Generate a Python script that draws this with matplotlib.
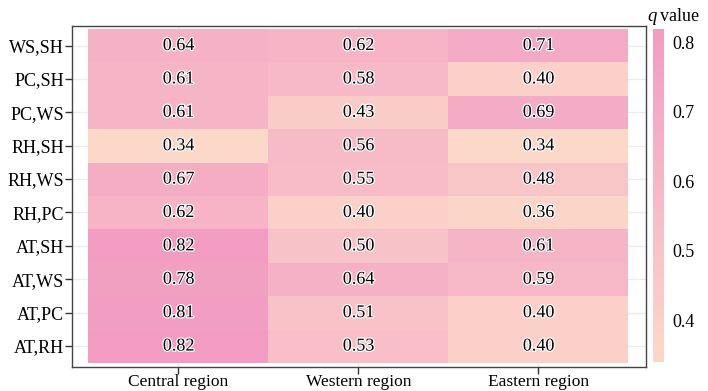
import numpy as np
import matplotlib
matplotlib.use("Agg")
import matplotlib.pyplot as plt
import matplotlib.patheffects as pe
from matplotlib.colors import LinearSegmentedColormap

rows = ["WS,SH", "PC,SH", "PC,WS", "RH,SH", "RH,WS", "RH,PC",
        "AT,SH", "AT,WS", "AT,PC", "AT,RH"]
cols = ["Central region", "Western region", "Eastern region"]

central = [0.64, 0.61, 0.61, 0.34, 0.67, 0.62, 0.82, 0.78, 0.81, 0.82]
western = [0.62, 0.58, 0.43, 0.56, 0.55, 0.40, 0.50, 0.64, 0.51, 0.53]
eastern = [0.71, 0.40, 0.69, 0.34, 0.48, 0.36, 0.61, 0.59, 0.40, 0.40]

plt.rcParams["font.family"] = ["Liberation Serif", "DejaVu Serif"]

data = np.array([central, western, eastern]).T
cmap = LinearSegmentedColormap.from_list("peachpink", ["#fcd8c8", "#f7b9c8", "#f29cc2"])

fig = plt.figure(figsize=(7.08, 3.91), dpi=100)
ax = fig.add_axes([0.102, 0.062, 0.811, 0.872])
cax = fig.add_axes([0.922, 0.074, 0.016, 0.853])

ax.set_axisbelow(True)
ax.grid(True, color="#ececec", linewidth=1.0)
im = ax.imshow(data, cmap=cmap, vmin=0.34, vmax=0.82, aspect="auto",
               extent=(-0.5, 2.5, 9.5, -0.5), zorder=2)
ax.set_xlim(-0.59, 2.6)
ax.set_ylim(9.62, -0.59)

for i in range(len(rows)):
    for j in range(len(cols)):
        ax.text(j, i, "{:.2f}".format(data[i, j]), ha="center", va="center",
                fontsize=13, color="black", zorder=3,
                path_effects=[pe.withStroke(linewidth=1.8, foreground="white")])

ax.set_xticks(range(len(cols)))
ax.set_xticklabels(cols, fontsize=12.5)
ax.set_yticks(range(len(rows)))
ax.set_yticklabels(rows, fontsize=13)
ax.tick_params(length=5, width=1, color="#333333", pad=1)
ax.tick_params(axis="x", pad=0)
for s in ax.spines.values():
    s.set_color("#444444")
    s.set_linewidth(1.0)

cb = fig.colorbar(im, cax=cax)
cb.outline.set_visible(False)
cb.set_ticks([0.4, 0.5, 0.6, 0.7, 0.8])
cb.ax.tick_params(length=3, color="white", labelsize=13, pad=3)
fig.text(0.914, 0.936, "q", fontsize=13.5, fontstyle="italic", ha="left", va="bottom")
fig.text(0.932, 0.936, "value", fontsize=13, ha="left", va="bottom")

fig.savefig("out.png", dpi=100)
